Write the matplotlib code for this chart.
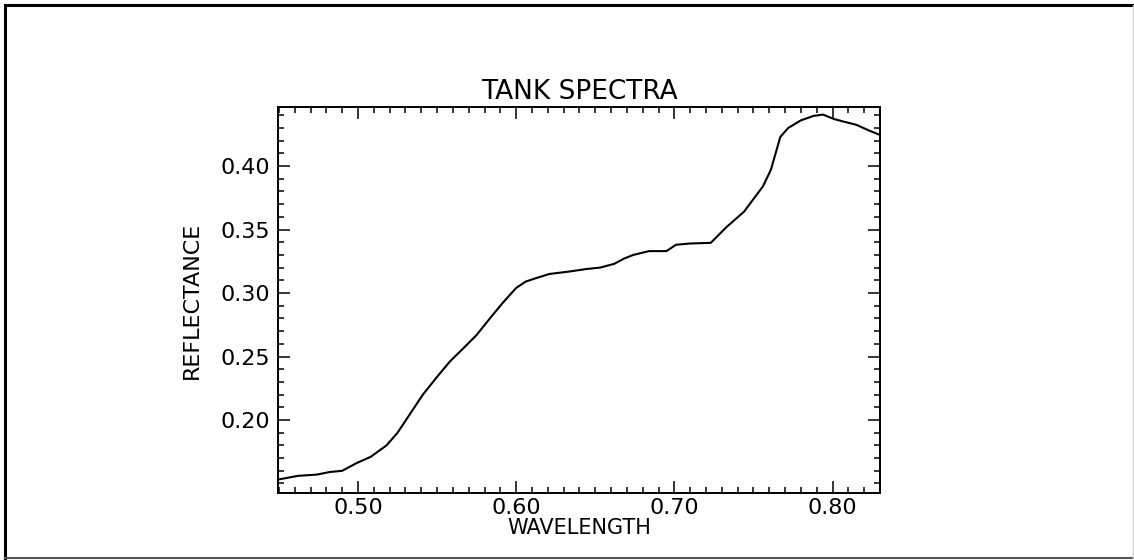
"""Tank reflectance spectrum, redrawn in the old IDL plot style."""
import matplotlib
matplotlib.use("Agg")
import matplotlib.pyplot as plt
from matplotlib.lines import Line2D
from matplotlib.ticker import MultipleLocator

# Values (wavelength in microns).
wavelength = [0.449, 0.462, 0.474, 0.482, 0.490, 0.499, 0.508, 0.518, 0.525,
              0.533, 0.541, 0.550, 0.558, 0.567, 0.575, 0.584, 0.592, 0.600,
              0.606, 0.612, 0.621, 0.634, 0.645, 0.653, 0.662, 0.668, 0.674,
              0.684, 0.695, 0.701, 0.710, 0.723, 0.733, 0.744, 0.756, 0.761,
              0.764, 0.767, 0.772, 0.780, 0.788, 0.794, 0.801, 0.807, 0.815,
              0.823, 0.829]
reflectance = [0.153, 0.156, 0.157, 0.159, 0.160, 0.166, 0.171, 0.180, 0.190,
               0.205, 0.220, 0.234, 0.246, 0.257, 0.267, 0.281, 0.293, 0.304,
               0.309, 0.3115, 0.315, 0.317, 0.319, 0.320, 0.323, 0.327, 0.330,
               0.333, 0.333, 0.338, 0.339, 0.3395, 0.352, 0.364, 0.384, 0.397,
               0.410, 0.423, 0.430, 0.436, 0.4395, 0.4405, 0.437, 0.435, 0.4325,
               0.428, 0.425]

x_ticks = [0.50, 0.60, 0.70, 0.80]
y_ticks = [0.20, 0.25, 0.30, 0.35, 0.40]

plt.rcParams["font.family"] = ["DejaVu Sans"]

fig = plt.figure(figsize=(11.34, 5.6), dpi=100)
ax = fig.add_axes([278 / 1134, 1 - 493 / 560, 602 / 1134, 386 / 560])

ax.plot(wavelength, reflectance, color="black", linewidth=1.5)

ax.set_xlim(0.4494, 0.830)
ax.set_ylim(0.1425, 0.4465)
ax.set_xticks(x_ticks)
ax.set_yticks(y_ticks)
ax.set_xticklabels([f"{v:.2f}" for v in x_ticks])
ax.set_yticklabels([f"{v:.2f}" for v in y_ticks])
ax.xaxis.set_minor_locator(MultipleLocator(0.01))
ax.yaxis.set_minor_locator(MultipleLocator(0.01))

ax.tick_params(which="both", direction="in", top=True, right=True,
               width=1.1, colors="black", labelsize=16)
ax.tick_params(which="major", length=8.5)
ax.tick_params(which="minor", length=4.5)
ax.tick_params(axis="x", pad=3.5)
ax.tick_params(axis="y", pad=6)
for sp in ax.spines.values():
    sp.set_linewidth(1.4)

ax.set_title("TANK SPECTRA", fontsize=19, pad=6)
# in the original the x label sits right under the tick labels
ax.set_xlabel("WAVELENGTH", fontsize=15)
ax.xaxis.set_label_coords(0.5, -0.066)
ax.set_ylabel("REFLECTANCE", fontsize=16)
ax.yaxis.set_label_coords(-0.126, 0.5)

# page frame around the whole plot
fig.add_artist(Line2D([5 / 1134, 5 / 1134], [2 / 560, 555 / 560], color="black", linewidth=2.2))
fig.add_artist(Line2D([5 / 1134, 1133 / 1134], [555 / 560, 555 / 560], color="black", linewidth=2.2))
fig.add_artist(Line2D([5 / 1134, 1133 / 1134], [2 / 560, 2 / 560], color="#555555", linewidth=1.5))
fig.add_artist(Line2D([1133 / 1134, 1133 / 1134], [2 / 560, 555 / 560], color="#cccccc", linewidth=1.0))

fig.savefig("out.png", dpi=100)
